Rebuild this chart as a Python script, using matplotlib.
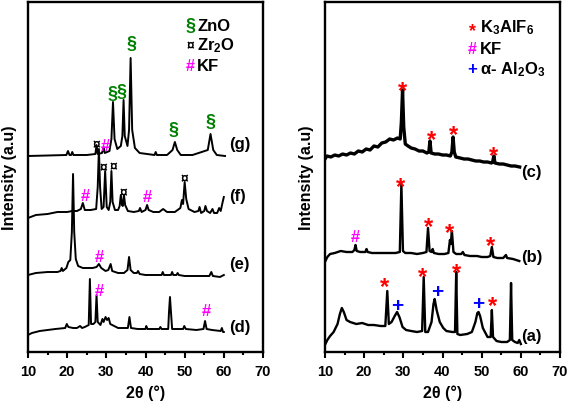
import matplotlib
matplotlib.use("Agg")
import matplotlib.pyplot as plt
from matplotlib.ticker import MultipleLocator

plt.rcParams['font.family'] = ['Liberation Sans', 'DejaVu Sans']
plt.rcParams['font.weight'] = 'bold'
plt.rcParams['mathtext.fontset'] = 'custom'
plt.rcParams['mathtext.rm'] = 'Liberation Sans:bold'
plt.rcParams['mathtext.bf'] = 'Liberation Sans:bold'
plt.rcParams['mathtext.default'] = 'bf'

# ---- left panel: patterns (d)-(g), 2theta vs intensity (arb. offset units)
g_x = [10, 15, 19.8, 20.2, 20.6, 21.0, 21.3, 21.6, 25, 27.2, 27.5, 27.8, 28.9, 29.3, 29.6,
       30.8, 31.3, 31.7, 32.1, 32.8, 33.7, 34.1, 34.4, 34.7, 35.4, 35.8, 36.2, 36.6, 37.3,
       38.5, 42.3, 42.6, 42.9, 45.5, 46.9, 47.5, 48.1, 49, 52, 55.9, 56.6, 57.3, 58.2, 60.3]
g_y = [196, 196.5, 197, 201, 197, 197, 200, 197, 197, 198, 207, 198, 199, 205, 199,
       201, 213, 250, 213, 203, 206, 216, 252, 216, 206, 222, 294, 222, 204,
       199, 197, 200, 197, 197, 202, 210, 202, 197, 197, 202, 218, 202, 197, 196]

f_x = [10, 12, 15, 17.5, 20, 21.3, 22.5, 23.5, 24.0, 24.5, 26, 27.4, 27.8, 28.1, 28.4, 28.8,
       29.3, 29.7, 30.1, 30.6, 31.0, 31.3, 31.6, 32.2, 33.0, 33.4, 33.7, 34.0, 34.2, 34.5,
       34.8, 35.5, 37, 38.3, 38.6, 39, 40.0, 40.4, 40.8, 42, 43.5, 44.5, 45.5, 47.5, 48.9,
       49.3, 49.6, 50.0, 50.4, 51, 52.5, 53.5, 53.8, 54.2, 55.0, 55.3, 55.7, 56.5, 57.1,
       57.5, 58.3, 58.8, 59.2, 59.7, 60.0]
f_y = [134, 137, 138, 140, 140, 141, 141, 143, 149, 142, 142, 143, 165, 203, 165, 143,
       145, 181, 145, 142, 150, 181, 150, 142, 142, 146, 157, 147, 146, 157,
       147, 141, 140, 141, 144, 140, 142, 147, 142, 140, 140, 143, 140, 140, 144,
       152, 148, 170, 153, 143, 140, 141, 145, 139, 141, 146, 141, 139, 143,
       139, 139, 144, 141, 150, 155]

e_x = [10, 12, 15, 17.5, 18.3, 18.6, 18.9, 19.8, 20.3, 20.8, 21.2, 21.5, 21.8, 22.2, 22.8,
       24, 26.5, 27.5, 28.1, 28.7, 29.8, 30.5, 31.1, 31.5, 33, 34.5, 35.4, 35.8, 36.2, 37,
       37.8, 38.1, 38.5, 40, 42, 44.1, 44.4, 44.7, 46.5, 46.8, 47.1, 47.9, 48.2, 48.5, 50,
       53, 56.3, 56.8, 57.2, 59, 60]
e_y = [77, 79, 80, 80, 81, 84, 81, 84, 90, 92, 120, 178, 120, 93, 86,
       84, 84, 85, 88, 84, 81, 82, 88, 81, 79, 79, 82, 95, 82, 79,
       79, 81, 78, 77, 77, 77, 80, 77, 77, 80, 77, 77, 79, 77, 76,
       76, 76, 80, 76, 75, 77]

d_x = [10, 11, 13, 15, 17, 19.5, 19.9, 20.3, 21.5, 22.5, 23.3, 23.8, 24.5, 25.5, 25.8, 26.1,
       26.7, 27.2, 27.5, 27.8, 28.5, 29.0, 29.3, 29.8, 30.2, 30.6, 31.0, 31.5, 33, 35.5, 35.9,
       36.3, 38, 40.0, 40.2, 40.5, 42, 43.5, 43.8, 44.1, 45.8, 46.0, 46.25, 46.5, 46.8, 48,
       49.6, 49.9, 50.3, 53, 54.8, 55.2, 55.6, 57, 59.2, 59.5, 59.8, 60]
d_y = [17, 19, 21, 22, 23, 24, 28, 25, 24, 24, 26, 24, 25, 27, 73, 28,
       28, 30, 57, 30, 27, 33, 30, 35, 32, 34, 28, 27, 24, 24, 35,
       24, 23, 23, 26, 23, 23, 23, 25, 23, 23, 40, 55, 40, 23, 23,
       23, 26, 23, 22, 23, 31, 23, 22, 21, 24, 20, 20]

# ---- right panel: patterns (a)-(c)
c_x = [10, 10.5, 11.5, 12.5, 13.5, 14.5, 15.5, 16.5, 17.5, 18.5, 19.5, 20.5, 21.5, 22.5,
       23.5, 24.5, 25.5, 26.5, 27.5, 28.5, 29.2, 29.5, 29.8, 30.1, 30.5, 31.2, 32, 33, 34,
       35, 36, 36.5, 36.8, 37.1, 38, 39, 40, 41, 42, 42.4, 42.7, 43.0, 43.4, 44.5, 45.5,
       46.5, 47.5, 48.5, 49.5, 50.5, 51.5, 52.5, 52.8, 53.1, 53.4, 54.5, 55.5, 56.5, 57.5,
       58.5, 59.7]
c_y = [193, 196, 195, 197, 196, 198, 197, 199, 198, 201, 200, 203, 202, 206,
       205, 209, 210, 213, 212, 214, 213, 230, 262, 225, 208, 206, 204, 203, 201,
       201, 199, 200, 211, 199, 198, 198, 197, 197, 196, 200, 215, 200, 195, 194, 193,
       193, 192, 191, 191, 190, 190, 189, 190, 196, 189, 188, 188, 187, 186,
       186, 185]

b_x = [10.1, 10.6, 11.3, 12.5, 14, 15.5, 17.0, 17.5, 17.8, 18.1, 19, 20.3, 20.6, 20.9, 22,
       24, 26, 28, 29.1, 29.5, 29.9, 30.5, 32, 33.5, 35, 35.9, 36.3, 36.7, 37.2, 37.5, 37.8,
       39, 40.5, 41.5, 41.9, 42.1, 42.4, 42.8, 43.5, 44.8, 45.2, 45.6, 47, 48.8, 50, 51.5,
       52.2, 52.6, 53.0, 54, 55.5, 56.2, 56.5, 58, 59.6]
b_y = [91, 95, 98, 99, 101, 100, 100, 102, 107, 101, 100, 100, 103, 100, 99,
       99, 99, 99, 100, 168, 101, 99, 99, 98, 99, 100, 124, 101, 100, 103, 99,
       98, 98, 99, 112, 108, 121, 100, 98, 98, 100, 97, 96, 96, 95, 95,
       96, 105, 95, 94, 94, 97, 94, 93, 91]

a_x = [10.1, 10.6, 11.3, 12.2, 13.2, 13.8, 14.3, 14.8, 15.5, 16.4, 18, 19.5, 21, 22.5, 24.2,
       25.4, 25.9, 26.3, 27, 27.8, 28.4, 29.0, 29.8, 30.7, 32, 33.5, 34.8, 35.2, 35.6, 36.3,
       37.2, 37.7, 38.0, 38.5, 39.3, 40.2, 41, 42.5, 43.2, 43.5, 43.8, 44.5, 46.3, 47.5, 48.4,
       48.9, 49.2, 49.6, 50.3, 51.5, 52.3, 52.6, 52.9, 53.8, 55, 56.5, 57.2, 57.5, 57.8, 58.5,
       59.2, 59.6, 60]
a_y = [8, 12, 16, 20, 28, 38, 44, 40, 32, 30, 28, 29, 27, 27, 26,
       26, 61, 28, 30, 36, 40, 35, 25, 22, 21, 20, 21, 75, 20, 20,
       30, 48, 53, 42, 30, 24, 21, 20, 20, 80, 18, 17, 18, 20, 30,
       39, 40, 36, 24, 15, 15, 42, 15, 11, 10, 10, 12, 69, 12, 10,
       9, 12, 8]

# phase markers: (2theta, intensity, symbol)
left_marks = [(31.7, 258, '§'), (33.9, 260, '§'), (36.4, 308, '§'), (47.2, 222, '§'), (56.5, 230, '§'),
              (27.5, 208, '¤'), (29.7, 206, '#'),
              (29.3, 185, '¤'), (31.7, 186, '¤'), (34.3, 160, '¤'), (50.0, 174, '¤'),
              (24.6, 156, '#'), (40.4, 155, '#'),
              (28.3, 95, '#'), (28.1, 61, '#'), (55.5, 41, '#')]
right_marks = [(29.8, 267, '*'), (37.1, 218, '*'), (42.9, 223, '*'), (53.1, 202, '*'),
               (17.8, 115, '#'), (29.4, 171, '*'), (36.3, 131, '*'), (41.8, 125, '*'), (52.3, 112, '*'),
               (25.3, 71, '*'), (35.0, 81, '*'), (43.5, 85, '*'), (52.8, 52, '*'),
               (28.4, 46, '+'), (38.6, 60, '+'), (49.2, 48, '+')]
mark_colors = {'§': 'green', '¤': 'black', '#': '#ff00ff', '*': 'red', '+': 'blue'}
mark_sizes = {'§': 13, '¤': 10, '#': 12, '*': 17, '+': 15}
mark_dy = {'§': 0, '¤': 0, '#': 0, '*': -6, '+': 0}
legend_sizes = {'§': 13, '¤': 10, '#': 11.5, '*': 13, '+': 12}

left_labels = [('(g)', 208), ('(f)', 156), ('(e)', 88), ('(d)', 25)]
right_labels = [('(c)', 180), ('(b)', 95), ('(a)', 16)]

left_legend = [('§', 'ZnO', 326), ('¤', 'Zr$_2$O', 307), ('#', 'KF', 286)]
right_legend = [('*', 'K$_3$AlF$_6$', 325), ('#', 'KF', 303), ('+', 'α- Al$_2$O$_3$', 283)]

fig = plt.figure(figsize=(5.67, 4.02), dpi=100)
ax1 = fig.add_axes([28 / 567, 49 / 402, 235 / 567, 350 / 402])
ax2 = fig.add_axes([325 / 567, 49 / 402, 235 / 567, 350 / 402])

for x, y in [(g_x, g_y), (f_x, f_y), (e_x, e_y), (d_x, d_y)]:
    ax1.plot(x, y, color='black', lw=1.4)
ax2.plot(c_x, c_y, color='black', lw=2.4)
ax2.plot(b_x, b_y, color='black', lw=1.7)
ax2.plot(a_x, a_y, color='black', lw=1.7)


def draw_marks(ax, marks):
    for x, y, s in marks:
        ax.text(x, y + mark_dy[s], s, color=mark_colors[s], fontsize=mark_sizes[s],
                ha='center', va='center', fontweight='bold')


draw_marks(ax1, left_marks)
draw_marks(ax2, right_marks)

for lab, y in left_labels:
    ax1.text(61.3, y, lab, fontsize=12, fontweight='bold', va='center', ha='left')
for lab, y in right_labels:
    ax2.text(60.2, y, lab, fontsize=12, fontweight='bold', va='center', ha='left')

for s, lab, y in left_legend:
    ax1.text(51.4, y + mark_dy[s], s, color=mark_colors[s], fontsize=legend_sizes[s],
             ha='center', va='center', fontweight='bold')
    ax1.text(53.2, y, lab, fontsize=12, fontweight='bold', va='center', ha='left')
for s, lab, y in right_legend:
    ax2.text(47.6, y + mark_dy[s] * 0.6, s, color=mark_colors[s], fontsize=legend_sizes[s],
             ha='center', va='center', fontweight='bold')
    ax2.text(49.6, y, lab, fontsize=12, fontweight='bold', va='center', ha='left')

for ax in (ax1, ax2):
    ax.set_xlim(10, 70)
    ax.set_ylim(0, 350)
    ax.xaxis.set_major_locator(MultipleLocator(10))
    ax.xaxis.set_minor_locator(MultipleLocator(5))
    ax.set_yticks([])
    ax.tick_params(axis='x', which='major', direction='out', length=4.5, width=1.5,
                   labelsize=10.5, pad=4)
    ax.tick_params(axis='x', which='minor', direction='out', length=2.5, width=1.5)
    for lbl in ax.get_xticklabels():
        lbl.set_fontweight('bold')
    for sp in ax.spines.values():
        sp.set_linewidth(1.7)
    ax.set_xlabel('2θ (°)', fontsize=11.5, fontweight='bold', labelpad=5)
    ax.set_ylabel('Intensity (a.u)', fontsize=11.5, fontweight='bold')
    ax.yaxis.set_label_coords(-0.045, 0.5)

fig.savefig('out.png', dpi=100)
